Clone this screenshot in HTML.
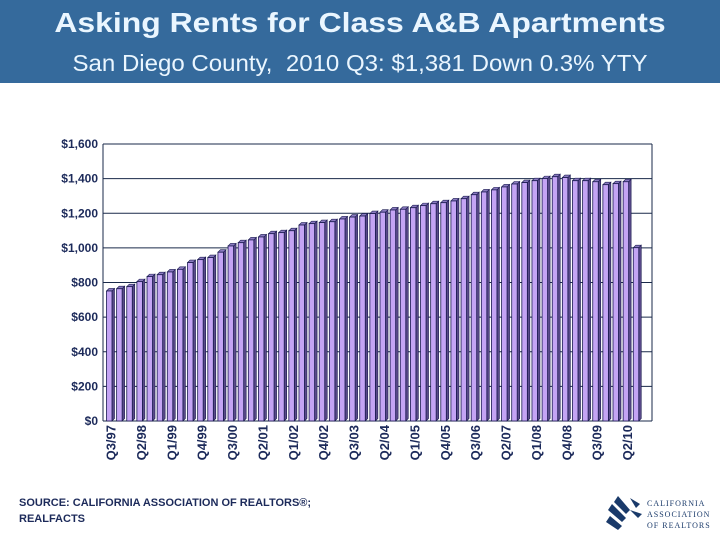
<!DOCTYPE html>
<html><head><meta charset="utf-8"><style>
body{margin:0;width:720px;height:540px;background:#fff;overflow:hidden;font-family:"Liberation Sans",sans-serif;position:relative}
#hdr{position:absolute;left:0;top:0;width:720px;height:83px;background:#356a9c}
#t1{position:absolute;top:7px;width:720px;text-align:center;color:#eaf6ff;font-weight:bold;font-size:28px;transform:scaleX(1.14)}
#t2{position:absolute;top:50px;width:720px;text-align:center;color:#eaf6ff;font-size:23px;transform:scaleX(1.045)}
#src{position:absolute;left:19px;top:495px;font-size:11px;font-weight:bold;color:#1c2a5a;line-height:16px}
</style></head><body>
<div id="hdr">
<div id="t1">Asking Rents for Class A&amp;B Apartments</div>
<div id="t2">San Diego County,&nbsp; 2010 Q3: $1,381 Down 0.3% YTY</div>
</div>
<svg id="chart" width="720" height="540" style="position:absolute;left:0;top:0"></svg>
<div id="src">SOURCE: CALIFORNIA ASSOCIATION OF REALTORS®;<br>REALFACTS</div>
<svg width="120" height="50" style="position:absolute;left:600px;top:488px">
<g fill="#1a3a6a"><polygon points="18,8 30,22 26,26 14,14"/><polygon points="12,16 26,30 22,34 8,22"/><polygon points="10,28 22,38 18,42 6,34"/><polygon points="30,10 40,16 36,20"/><polygon points="30,22 42,26 38,30"/></g>
<text x="47" y="18" font-family="Liberation Serif,serif" font-size="8" fill="#1a3a6a" letter-spacing="1">CALIFORNIA</text>
<text x="47" y="29" font-family="Liberation Serif,serif" font-size="8" fill="#1a3a6a" letter-spacing="1">ASSOCIATION</text>
<text x="47" y="40" font-family="Liberation Serif,serif" font-size="8" fill="#1a3a6a" letter-spacing="1">OF REALTORS</text>
</svg>
<script>
const quarters=["Q3/97","Q4/97","Q1/98","Q2/98","Q3/98","Q4/98","Q1/99","Q2/99","Q3/99","Q4/99","Q1/00","Q2/00","Q3/00","Q4/00","Q1/01","Q2/01","Q3/01","Q4/01","Q1/02","Q2/02","Q3/02","Q4/02","Q1/03","Q2/03","Q3/03","Q4/03","Q1/04","Q2/04","Q3/04","Q4/04","Q1/05","Q2/05","Q3/05","Q4/05","Q1/06","Q2/06","Q3/06","Q4/06","Q1/07","Q2/07","Q3/07","Q4/07","Q1/08","Q2/08","Q3/08","Q4/08","Q1/09","Q2/09","Q3/09","Q4/09","Q1/10","Q2/10","Q3/10"];
const rents=[751,764,776,805,834,845,861,876,915,932,944,975,1011,1030,1046,1063,1082,1088,1099,1132,1140,1146,1151,1167,1178,1184,1198,1206,1219,1223,1232,1244,1255,1261,1271,1284,1307,1323,1335,1352,1369,1377,1388,1400,1411,1406,1388,1388,1382,1365,1371,1382,1001];
const yTicks=[0,200,400,600,800,1000,1200,1400,1600];
const yTickLabels=["$0","$200","$400","$600","$800","$1,000","$1,200","$1,400","$1,600"];
const shownLabels=["Q3/97","Q2/98","Q1/99","Q4/99","Q3/00","Q2/01","Q1/02","Q4/02","Q3/03","Q2/04","Q1/05","Q4/05","Q3/06","Q2/07","Q1/08","Q4/08","Q3/09","Q2/10"];
const NS="http://www.w3.org/2000/svg",svg=document.getElementById('chart');
const L=103,R=652,T=144,B=421,yMax=1600;
const y=v=>B-(v/yMax)*(B-T);
const slot=10.13,x0=105;
const x=i=>x0+i*slot;
function mk(t,a){const e=document.createElementNS(NS,t);for(const k in a)e.setAttribute(k,a[k]);svg.appendChild(e);return e;}
yTicks.forEach((v,i)=>{
 const g=mk('line',{x1:L,x2:R,y1:y(v),y2:y(v),stroke:'#1a2a4a','stroke-width':1});
 
 
 const t=mk('text',{x:98,y:y(v)+4,'text-anchor':'end','font-size':12,'font-weight':'bold',fill:'#1c2a5a','font-family':'Liberation Sans,sans-serif'});
 t.textContent=yTickLabels[i];
 
 
});
const ax=mk('line',{x1:L,x2:L,y1:T,y2:B,stroke:'#1a2a4a'});


const rb=mk('line',{x1:R,x2:R,y1:T,y2:B,stroke:'#1a2a4a'});


rents.forEach((v,i)=>{
 const bx=x(i)+1.5,by=y(v),w=5.5,d=2.5;
 const s=mk('polygon',{points:`${bx+w},${by} ${bx+w+d},${by-d} ${bx+w+d},${B-d} ${bx+w},${B}`,fill:'#5a4a8a',stroke:'#1a1a50','stroke-width':0.6});
 
 
 const tp=mk('polygon',{points:`${bx},${by} ${bx+d},${by-d} ${bx+w+d},${by-d} ${bx+w},${by}`,fill:'#8a7ac0',stroke:'#1a1a50','stroke-width':0.6});
 
 
 const r=mk('rect',{x:bx,y:by,width:w,height:B-by,fill:'#c4a4f4',stroke:'#1a1a50','stroke-width':0.8});
 
 
});
quarters.forEach((q,i)=>{
 if(!shownLabels.includes(q))return;
 const cx=x(i)+4.5;
 const t=mk('text',{x:0,y:0,transform:`translate(${cx+6},425) rotate(-90)`,'text-anchor':'end','font-size':13,'font-weight':'bold',fill:'#1c2a5a','font-family':'Liberation Sans,sans-serif'});
 t.textContent=q;
 
 
});
</script>
</body></html>
